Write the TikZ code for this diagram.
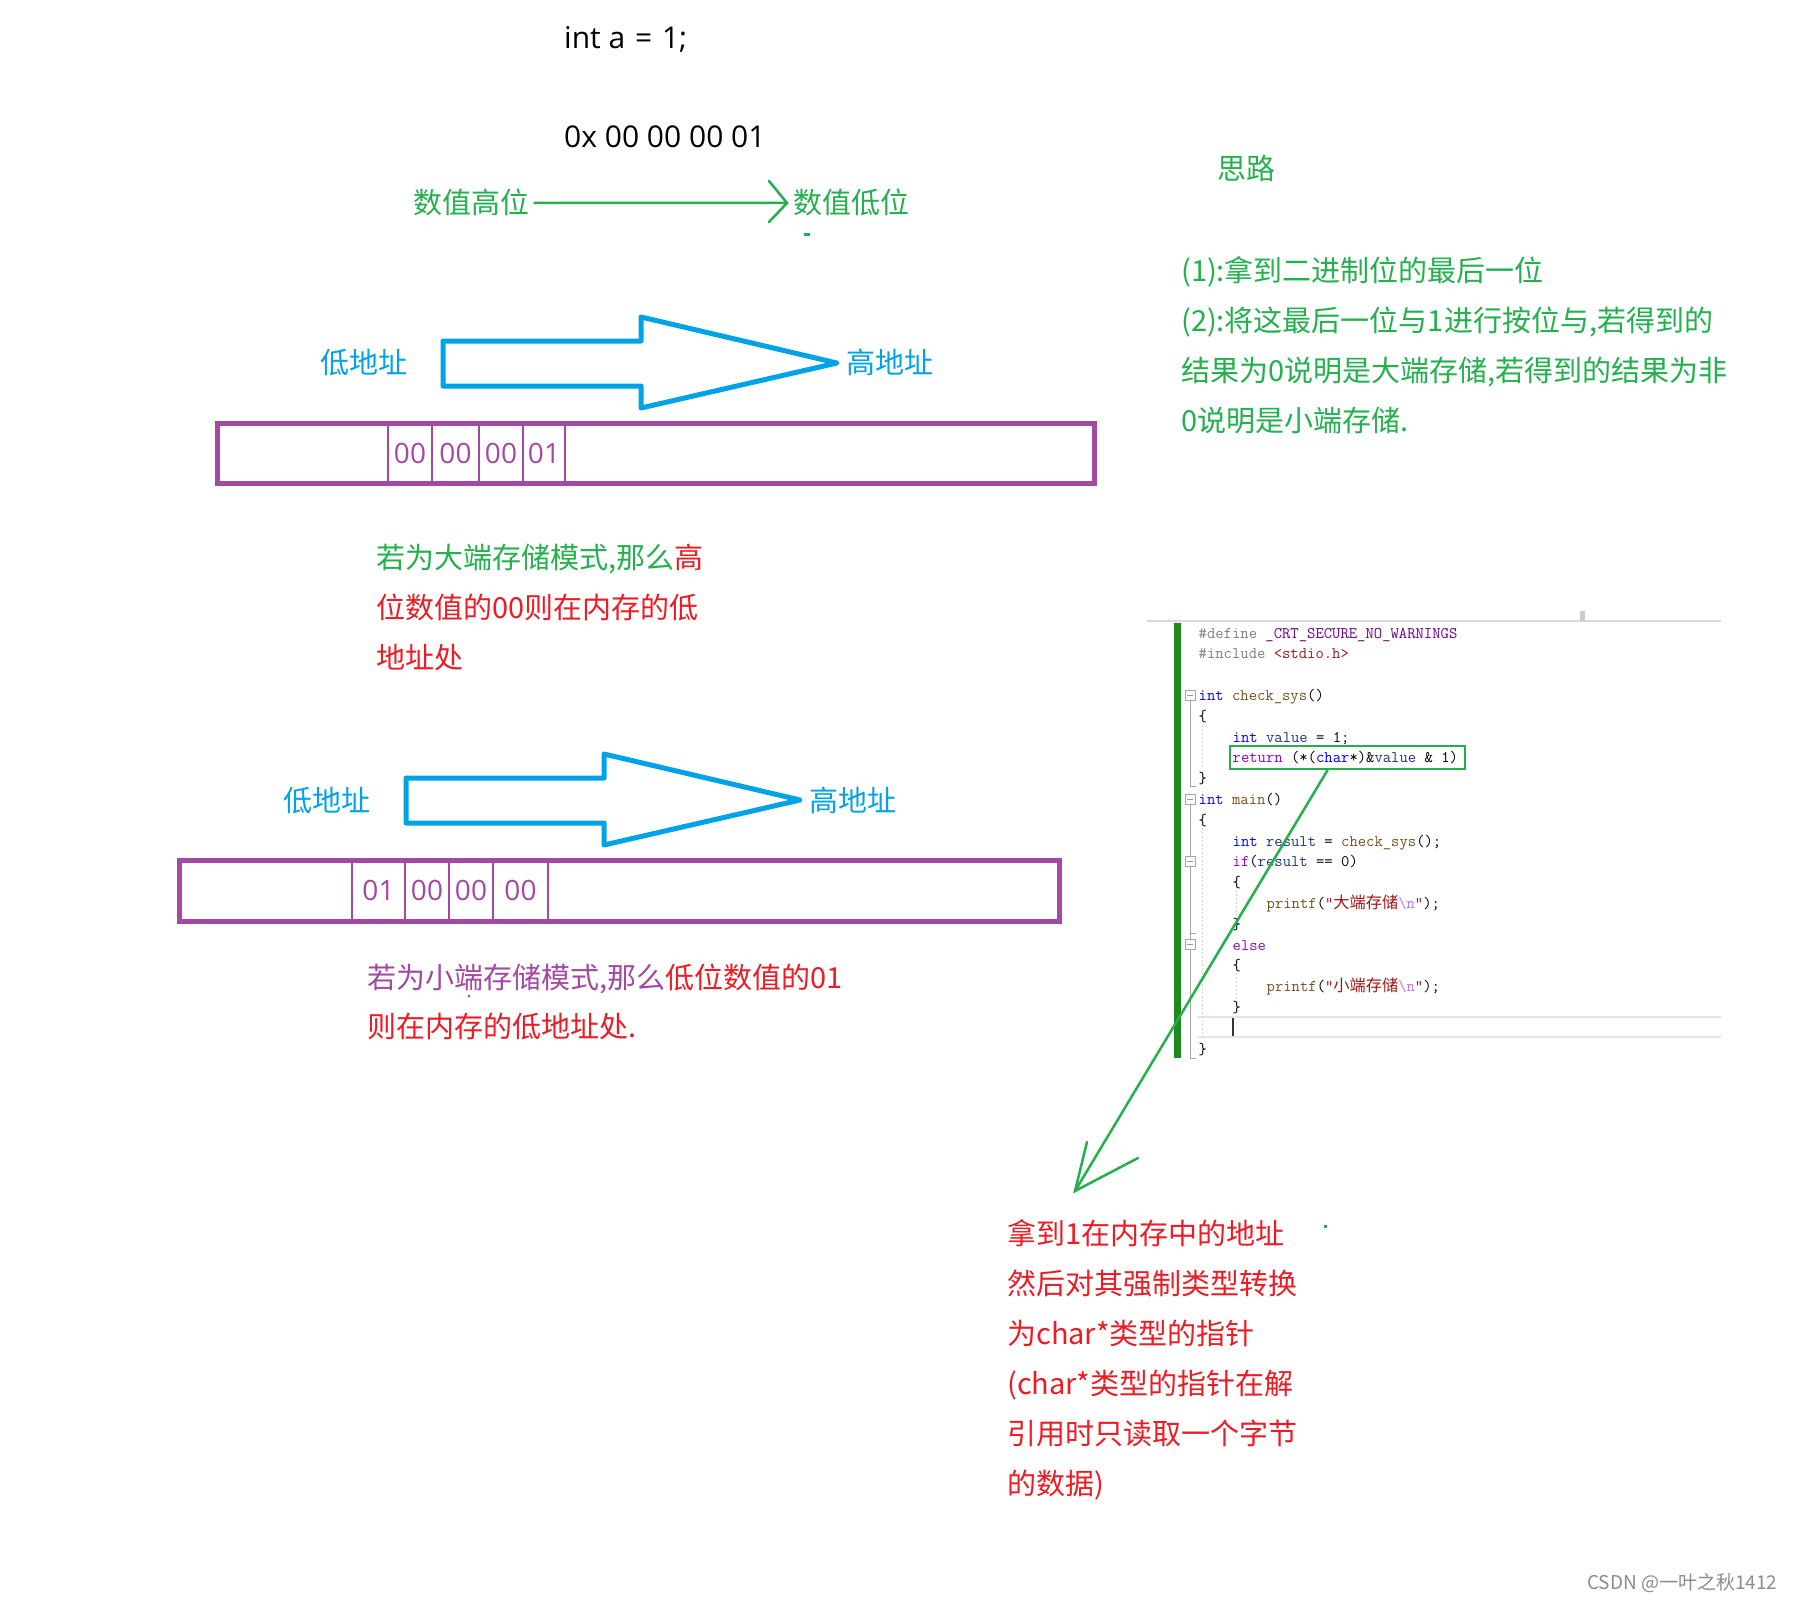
\documentclass[tikz,border=0pt]{standalone}
\usepackage{fontspec}
\setmainfont{Noto Sans CJK SC}
\newfontfamily\latinfont{Open Sans}
\newfontfamily\codecjk{Noto Sans CJK SC}
\usepackage{xcolor}
\usetikzlibrary{positioning,arrows.meta}
\definecolor{pgreen}{HTML}{22B14C}
\definecolor{pred}{HTML}{ED1C24}
\definecolor{ppurple}{HTML}{A349A4}
\definecolor{pblue}{HTML}{00A2E8}
\definecolor{bargreen}{HTML}{1E8A1E}
\definecolor{vsblue}{HTML}{0000FF}
\definecolor{vsctrl}{HTML}{8F08C4}
\definecolor{vsfunc}{HTML}{74531F}
\definecolor{vsvar}{HTML}{1F377F}
\definecolor{vsstr}{HTML}{A31515}
\definecolor{vsmacro}{HTML}{6F008A}
\definecolor{vsgray}{HTML}{808080}
\definecolor{vsesc}{HTML}{B776FB}
\definecolor{curline}{HTML}{E4E5EC}
\newcommand\codeind{\hspace*{34pt}}

\begin{document}
\begin{tikzpicture}[
    x=1pt, y=-1pt,
    txt/.style={anchor=base west, inner sep=0pt, font=\fontsize{29}{29}\selectfont},
    latin/.style={anchor=base west, inner sep=0pt, font=\latinfont\fontsize{30}{30}\selectfont},
    addr/.style={txt, text=pblue},
    cell/.style={draw=ppurple, line width=1.5pt, inner sep=0pt, text=ppurple,
                 font=\latinfont\fontsize{28}{28}\selectfont},
    membox/.style={draw=ppurple, line width=5pt, inner sep=0pt},
    bigarrow/.style={draw=pblue, line width=5pt, line join=round},
    greenline/.style={draw=pgreen, line width=2.5pt, line cap=round},
    srcline/.style={anchor=base west, inner sep=0pt, font=\fontsize{16.2}{18}\selectfont\ttfamily},
    foldbox/.style={draw=gray!70, fill=white, line width=0.8pt, minimum size=10pt,
                    inner sep=0pt, text=gray!80},
    foldline/.style={draw=gray!70, line width=0.8pt},
    guide/.style={draw=gray!35, line width=0.8pt, dash pattern=on 2pt off 2pt},
    hlbox/.style={draw=pgreen, line width=2.5pt, minimum width=235pt,
                  minimum height=23pt, inner sep=0pt},
  ]
    \fill[white] (0,0) rectangle (1800,1600);
    \useasboundingbox (0,0) rectangle (1800,1600);

    % value and byte order
    \node[latin] (decl) at (564,49) {int a \hspace{2pt}=\hspace{2pt} 1;};
    \node[latin] (hex) at (564,148) {0x 00 00 00 01};
    \node[txt, text=pgreen] (hibit) at (413,214) {数值高位};
    \node[txt, text=pgreen] (lobit) at (793,214) {数值低位};
    \coordinate (lotip) at (787,203);
    \draw[greenline] ([xshift=5pt]hibit.east) -- (lotip);
    \draw[greenline] (lotip) ++(-18,-22) -- (lotip) -- ++(-18,19);
    \fill[pgreen] (804,233) rectangle (810,236);

    % idea
    \node[txt, text=pgreen] (idea) at (1217,179) {思路};
    \foreach \s [count=\i from 0] in {
        {(1):拿到二进制位的最后一位},
        {(2):将这最后一位与1进行按位与,若得到的},
        {结果为0说明是大端存储,若得到的结果为非},
        {0说明是小端存储.}}
      \node[txt, text=pgreen] (idea\i) at (1181,281+50*\i) {\s};

    % address arrows
    \foreach \dx/\dy in {0/0, -37/437}
      \draw[bigarrow, shift={(\dx,\dy)}] (443,341) -- (641,341) -- (641,317)
        -- (837,363) -- (641,408) -- (641,386) -- (443,386) -- cycle;
    \node[addr] (lowA) at (320,373) {低地址};
    \node[addr] (highA) at (846,373) {高地址};
    \node[addr] (lowB) at (283,811) {低地址};
    \node[addr] (highB) at (809,811) {高地址};

    % big endian memory
    \foreach \l/\r/\v [count=\i] in {388/432/00, 432/479/00, 479/523/00, 523/565/01}
      \node[cell, minimum width={\r-\l}, minimum height=60pt] (bigc\i) at ({(\l+\r)/2},453) {\v};
    \node[membox, minimum width=877pt, minimum height=60pt] (bigmem) at (655.5,453) {};
    \node[txt, text=pred] (bigtxt0) at (376,568) {\textcolor{pgreen}{若为大端存储模式,那么}高};
    \node[txt, text=pred] (bigtxt1) at (376,618) {位数值的00则在内存的低};
    \node[txt, text=pred] (bigtxt2) at (376,668) {地址处};

    % little endian memory
    \foreach \l/\r/\v [count=\i] in {352/405/01, 405/449/00, 449/493/00, 493/548/00}
      \node[cell, minimum width={\r-\l}, minimum height=61pt] (litc\i) at ({(\l+\r)/2},890.5) {\v};
    \node[membox, minimum width=880pt, minimum height=61pt] (litmem) at (619,890.5) {};
    \node[txt, text=pred] (littxt0) at (367,988) {\textcolor{ppurple}{若为小端存储模式,那么}低位数值的01};
    \node[txt, text=pred] (littxt1) at (367,1037) {则在内存的低地址处.};
    \fill[ppurple] (469,996) circle (1.5);

    % source code
    \draw[gray!30, line width=2pt] (1147,621) -- (1721,621);
    \fill[gray!40] (1580,611) rectangle (1585,621);
    \fill[bargreen] (1174,623) rectangle (1181,1058);
    \draw[curline, line width=2pt] (1197,1017) -- (1721,1017) (1197,1037) -- (1721,1037);
    \draw[black!80, line width=1.5pt] (1233,1018) -- (1233,1036);
    \draw[guide] (1202,725) -- (1202,768) (1202,828) -- (1202,1040)
                 (1236,890) -- (1236,917) (1236,973) -- (1236,1000);
    \node[foldbox] (fold1) at (1190,695) {\rule{6pt}{1pt}};
    \node[foldbox] (fold2) at (1190,799) {\rule{6pt}{1pt}};
    \node[foldbox] (fold3) at (1190,861) {\rule{6pt}{1pt}};
    \node[foldbox] (fold4) at (1190,944) {\rule{6pt}{1pt}};
    \draw[foldline] (fold1.south) -- (1190,786) -- ++(6,0);
    \draw[foldline] (fold2.south) -- (fold3.north);
    \draw[foldline] (fold3.south) -- (fold4.north);
    \draw[foldline] (fold4.south) -- (1190,1058) -- ++(6,0);
    \draw[foldline] (1190,933) -- ++(6,0);
    \foreach \ln [count=\n from 0] in {
        {{\color{vsgray}\#define} {\color{vsmacro}\_CRT\_SECURE\_NO\_WARNINGS}},
        {{\color{vsgray}\#include} {\color{vsstr}<stdio.h>}},
        {},
        {{\color{vsblue}int} {\color{vsfunc}check\_sys}()},
        {\{},
        {\codeind{\color{vsblue}int} {\color{vsvar}value} = 1;},
        {\codeind{\color{vsctrl}return} (*({\color{vsblue}char}*)\&{\color{vsvar}value} \& 1)},
        {\}},
        {{\color{vsblue}int} {\color{vsfunc}main}()},
        {\{},
        {\codeind{\color{vsblue}int} {\color{vsvar}result} = {\color{vsfunc}check\_sys}();},
        {\codeind{\color{vsctrl}if}({\color{vsvar}result} == 0)},
        {\codeind\{},
        {\codeind\codeind{\color{vsfunc}printf}({\color{vsstr}"{\codecjk 大端存储}}{\color{vsesc}\textbackslash n}{\color{vsstr}"});},
        {\codeind\}},
        {\codeind{\color{vsctrl}else}},
        {\codeind\{},
        {\codeind\codeind{\color{vsfunc}printf}({\color{vsstr}"{\codecjk 小端存储}}{\color{vsesc}\textbackslash n}{\color{vsstr}"});},
        {\codeind\}},
        {},
        {\}}}
      \node[srcline] (src\n) at (1198.5,638+20.8*\n) {\ln};
    \node[hlbox] (retbox) at (1347.5,757.5) {};

    % pointer note
    \coordinate (tip) at (1075,1191);
    \draw[greenline] ([xshift=-20pt]retbox.south) -- (tip);
    \draw[greenline] (tip) ++(12,-49) -- (tip) -- ++(63,-33);
    \foreach \s [count=\i from 0] in {
        {拿到1在内存中的地址},
        {然后对其强制类型转换},
        {为char*类型的指针},
        {(char*类型的指针在解},
        {引用时只读取一个字节},
        {的数据)}}
      \node[txt, text=pred] (note\i) at (1007,1244+50*\i) {\s};
    \fill[pgreen] (1324,1225) rectangle (1327,1228);

    \node[anchor=base west, inner sep=0pt, font=\fontsize{19}{19}\selectfont, text=black!45]
      (mark) at (1587,1589) {CSDN @一叶之秋1412};
  \end{tikzpicture}
\end{document}
